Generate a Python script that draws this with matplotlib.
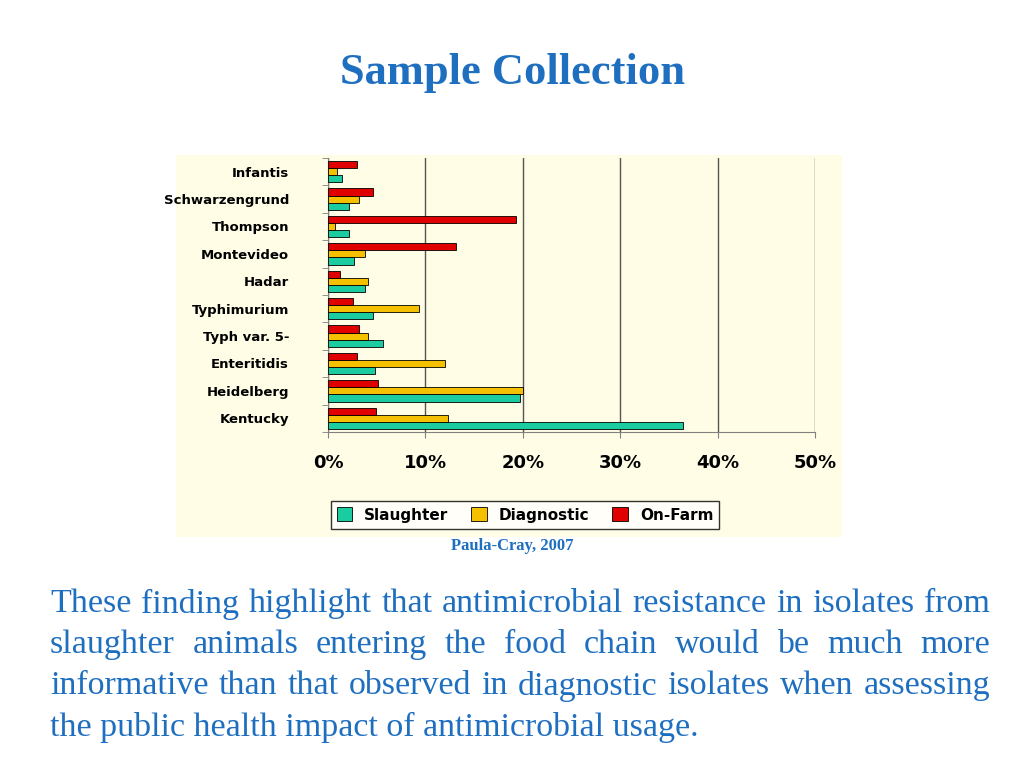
import matplotlib
matplotlib.use("Agg")
import matplotlib.pyplot as plt
import numpy as np
from matplotlib.patches import Rectangle

categories = ["Infantis", "Schwarzengrund", "Thompson", "Montevideo", "Hadar",
              "Typhimurium", "Typh var. 5-", "Enteritidis", "Heidelberg", "Kentucky"]
slaughter = [1.4, 2.2, 2.2, 2.7, 3.8, 4.6, 5.6, 4.8, 19.7, 36.4]
diagnostic = [0.9, 3.2, 0.7, 3.8, 4.1, 9.3, 4.1, 12.0, 20.0, 12.3]
onfarm = [3.0, 4.6, 19.3, 13.1, 1.2, 2.6, 3.2, 3.0, 5.1, 4.9]
xticks = [0, 10, 20, 30, 40, 50]

W, H = 1024, 768
fig = plt.figure(figsize=(W/100, H/100), dpi=100)
fig.patch.set_facecolor("white")
bg = "#FFFDE6"
bgrect = Rectangle((176/W, 1-537/H), (842-176)/W, (537-155)/H,
                   transform=fig.transFigure, facecolor=bg, edgecolor="none", zorder=-10)
fig.add_artist(bgrect)

ax = fig.add_axes([328/W, 1-432/H, (815-328)/W, (432-158)/H])
ax.set_zorder(5)
ax.set_facecolor(bg)
n = len(categories)
y = np.arange(n)[::-1].astype(float)
h = 0.26
ax.barh(y - h, slaughter, height=h, color="#1ACCA0", edgecolor="black", linewidth=0.6, zorder=3, label="Slaughter")
ax.barh(y, diagnostic, height=h, color="#F5C000", edgecolor="black", linewidth=0.6, zorder=3, label="Diagnostic")
ax.barh(y + h, onfarm, height=h, color="#E00000", edgecolor="black", linewidth=0.6, zorder=3, label="On-Farm")
ax.set_xlim(0, 50)
ax.set_ylim(-0.5, n - 0.5)
ax.set_xticks(xticks)
ax.set_xticklabels([f"{v}%" for v in xticks], fontsize=13, fontweight="bold")
ax.set_yticks(y)
ax.set_yticklabels(categories, fontsize=9.5, fontweight="bold")
ax.set_yticks(np.arange(-0.5, n, 1.0), minor=True)
ax.tick_params(axis="y", which="major", length=0, pad=28)
ax.tick_params(axis="y", which="minor", length=4, color="gray")
ax.tick_params(axis="x", length=4, color="gray", pad=12)
ax.grid(axis="x", color="#555555", linewidth=1, zorder=0)
for s in ["top", "right"]:
    ax.spines[s].set_visible(False)
ax.spines["left"].set_color("gray")
ax.spines["bottom"].set_color("gray")

leg = fig.legend(loc="center", bbox_to_anchor=(525/W, 1-515/H), ncol=3, frameon=True,
                 fancybox=False, edgecolor="black", prop={"size": 11, "weight": "bold"},
                 handlelength=1.0, handleheight=1.0, columnspacing=1.5)
leg.get_frame().set_facecolor("white")
leg.set_zorder(6)

fig.text(512/W, 1-73/H, "Sample Collection", ha="center", va="center",
         fontsize=32, fontweight="bold", color="#1F6FC0", family="Liberation Serif")
fig.text(512/W, 1-546/H, "Paula-Cray, 2007", ha="center", va="center",
         fontsize=12, fontweight="bold", color="#1F6FC0", family="Liberation Serif")

lines = ["These finding highlight that antimicrobial resistance in isolates from",
         "slaughter animals entering the food chain would be much more",
         "informative than that observed in diagnostic isolates when assessing",
         "the public health impact of antimicrobial usage."]
ys = [604, 645, 686, 727]
r = fig.canvas.get_renderer()
for i, (ln, yy) in enumerate(zip(lines, ys)):
    if i < 3:
        words = ln.split()
        ts = [fig.text(0, 0, w, fontsize=24.5, color="#1F6FC0", family="Liberation Serif") for w in words]
        widths = [t.get_window_extent(r).width for t in ts]
        gap = (990 - 50 - sum(widths)) / (len(words) - 1)
        x = 50
        for t, wd in zip(ts, widths):
            t.set_position((x/W, 1-yy/H)); t.set_va("center")
            x += wd + gap
    else:
        fig.text(50/W, 1-yy/H, ln, fontsize=24.5, color="#1F6FC0", family="Liberation Serif", va="center")

fig.savefig("out.png", dpi=100)
